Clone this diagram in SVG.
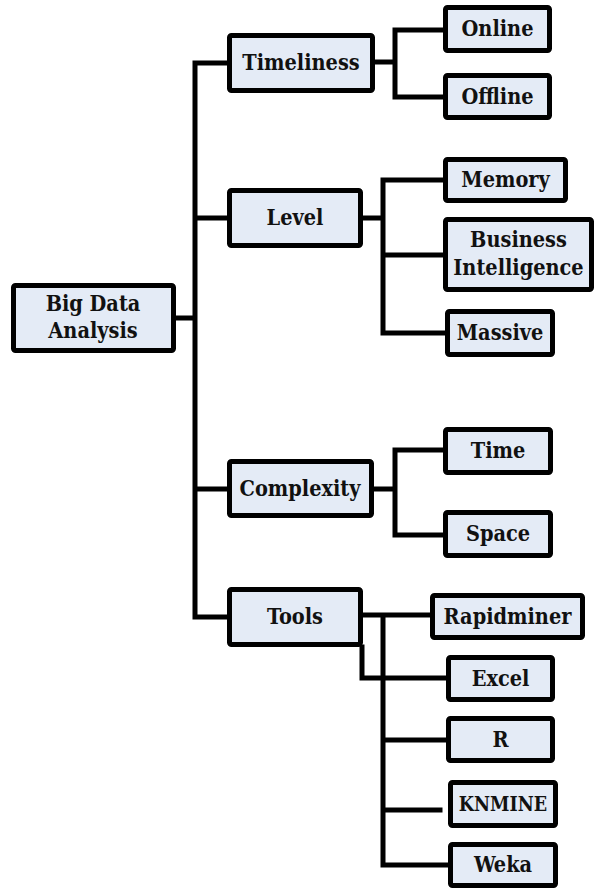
<svg xmlns="http://www.w3.org/2000/svg" width="596" height="889" viewBox="0 0 596 889">
<style>
.box{fill:#e4ebf6;stroke:#000;stroke-width:5;rx:2}
.t{font-family:"DejaVu Serif Condensed","DejaVu Serif",serif;font-stretch:condensed;font-weight:bold;font-size:21.5px;fill:#111;text-anchor:middle}
.c{fill:none;stroke:#000;stroke-width:5;stroke-linejoin:miter;stroke-linecap:square}
</style>
<rect width="596" height="889" fill="#fff"/>
<g id="connectors">
<path class="c" d="M229 63 H195 V617 H229 M195 218 H229 M176 318 H195 M195 489 H229"/>
<path class="c" d="M375 62 H395 M443 30 H395 V97 H443"/>
<path class="c" d="M363 218 H383 M443 180 H383 V333 H445 M383 255 H443"/>
<path class="c" d="M374 489 H395 M443 450 H395 V535 H443"/>
<path class="c" d="M363 615 H430 M383 615 V865 H448 M362 647 V678 H446 M383 740 H446 M383 810 H440"/>
</g>
<g id="n-bigdata"><rect class="box" x="13.5" y="285.5" width="160" height="65"/><text class="t" x="93" y="311">Big Data</text><text class="t" x="93" y="338">Analysis</text></g>
<g id="n-timeliness"><rect class="box" x="229.5" y="35.5" width="143" height="55"/><text class="t" x="301" y="70">Timeliness</text></g>
<g id="n-level"><rect class="box" x="229.5" y="190.5" width="131" height="55"/><text class="t" x="295" y="225">Level</text></g>
<g id="n-complexity"><rect class="box" x="229.5" y="461.5" width="142" height="54"/><text class="t" x="300" y="496">Complexity</text></g>
<g id="n-tools"><rect class="box" x="229.5" y="589.5" width="131" height="55"/><text class="t" x="295" y="624">Tools</text></g>
<g id="n-online"><rect class="box" x="445.5" y="7.5" width="104" height="43"/><text class="t" x="497.5" y="36">Online</text></g>
<g id="n-offline"><rect class="box" x="445.5" y="75.5" width="104" height="42"/><text class="t" x="497.5" y="104">Offline</text></g>
<g id="n-memory"><rect class="box" x="445.5" y="159.5" width="120" height="41"/><text class="t" x="505.5" y="187">Memory</text></g>
<g id="n-bi"><rect class="box" x="445.5" y="219.5" width="146" height="70"/><text class="t" x="518.5" y="247">Business</text><text class="t" x="518.5" y="275">Intelligence</text></g>
<g id="n-massive"><rect class="box" x="447.5" y="311.5" width="105" height="43"/><text class="t" x="500" y="340">Massive</text></g>
<g id="n-time"><rect class="box" x="445.5" y="429.5" width="105" height="43"/><text class="t" x="498" y="458">Time</text></g>
<g id="n-space"><rect class="box" x="445.5" y="512.5" width="105" height="43"/><text class="t" x="498" y="541">Space</text></g>
<g id="n-rapidminer"><rect class="box" x="432.5" y="595.5" width="150" height="42"/><text class="t" x="507.5" y="624">Rapidminer</text></g>
<g id="n-excel"><rect class="box" x="448.5" y="657.5" width="104" height="42"/><text class="t" x="500.5" y="686">Excel</text></g>
<g id="n-r"><rect class="box" x="448.5" y="718.5" width="104" height="42"/><text class="t" x="500.5" y="747">R</text></g>
<g id="n-knmine"><rect class="box" x="450.5" y="782.5" width="105" height="43"/><text class="t" x="503" y="811" style="font-size:19.5px">KNMINE</text></g>
<g id="n-weka"><rect class="box" x="450.5" y="844.5" width="105" height="41"/><text class="t" x="503" y="872">Weka</text></g>
</svg>
